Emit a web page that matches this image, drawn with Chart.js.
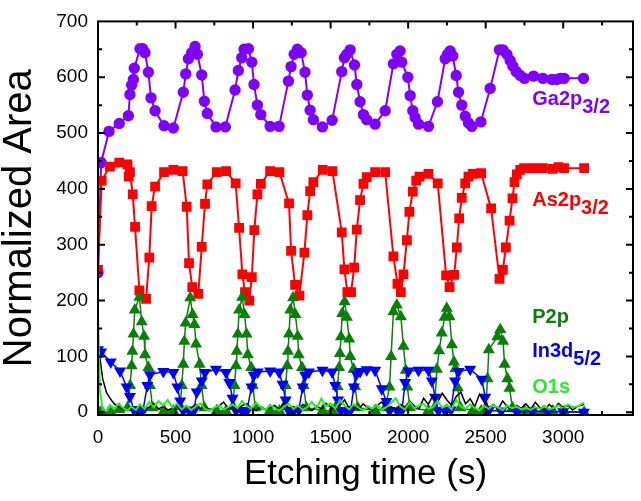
<!DOCTYPE html>
<html>
<head>
<meta charset="utf-8">
<script src="https://cdn.jsdelivr.net/npm/chart.js@4.4.0/dist/chart.umd.min.js"></script>
<style>
  body { margin: 0; background: #fff; }
  canvas { display: block; }
</style>
</head>
<body>
<canvas id="chart" width="641" height="501"></canvas>
<script>
// Axis ticks
var xTicks = [0, 500, 1000, 1500, 2000, 2500, 3000];
var yTicks = [0, 100, 200, 300, 400, 500, 600, 700];

// Ga2p3/2 (purple circles)
var gaTime = [0, 20, 71, 137, 196, 206, 217, 228, 234, 271, 288, 303, 325, 342, 368, 426, 486, 550, 566, 583,
  604, 626, 641, 669, 686, 705, 761, 821, 884, 905, 927, 942, 970, 992, 1006, 1028, 1050, 1110, 1168, 1228,
  1245, 1265, 1286, 1310, 1335, 1350, 1368, 1389, 1447, 1510, 1572, 1589, 1604, 1626, 1654, 1669, 1690, 1712, 1733, 1787,
  1852, 1905, 1927, 1948, 1959, 1998, 2013, 2030, 2045, 2067, 2131, 2189, 2239, 2254, 2271, 2288, 2310, 2325, 2346, 2368,
  2389, 2411, 2469, 2529, 2589, 2611, 2637, 2658, 2675, 2697, 2723, 2750, 2809, 2869, 2927, 2959, 2981, 3006, 3131];
var gaArea = [250, 447, 503, 517, 531, 569, 586, 596, 616, 651, 651, 644, 609, 563, 540, 513, 509, 573, 606, 633,
  644, 655, 641, 604, 557, 535, 511, 511, 577, 612, 635, 650, 651, 627, 587, 550, 533, 512, 512, 593,
  619, 641, 650, 644, 609, 568, 541, 524, 511, 523, 610, 635, 641, 649, 622, 587, 556, 533, 524, 516,
  540, 624, 641, 647, 627, 600, 567, 540, 528, 516, 512, 556, 633, 641, 647, 638, 603, 573, 550, 530,
  518, 512, 520, 580, 649, 649, 641, 630, 620, 610, 603, 598, 602, 598, 596, 596, 598, 598, 598];

// As2p3/2 (red squares)
var asTime = [0, 24, 77, 137, 190, 198, 206, 224, 239, 267, 310, 331, 346, 368, 426, 486, 546, 572, 587, 608,
  647, 669, 690, 705, 766, 826, 888, 910, 931, 948, 976, 992, 1008, 1028, 1050, 1110, 1170, 1232, 1245, 1271,
  1299, 1331, 1350, 1368, 1389, 1449, 1512, 1572, 1589, 1608, 1632, 1652, 1669, 1690, 1712, 1733, 1787, 1852, 1905, 1931,
  1953, 1970, 1992, 2008, 2030, 2052, 2073, 2131, 2191, 2245, 2267, 2297, 2314, 2329, 2346, 2368, 2389, 2417, 2471, 2535,
  2589, 2611, 2630, 2654, 2673, 2686, 2701, 2723, 2748, 2809, 2869, 2933, 2970, 3006, 3135];
var asArea = [255, 415, 440, 447, 444, 422, 430, 390, 332, 218, 203, 277, 369, 404, 430, 434, 432, 368, 267, 224,
  212, 296, 373, 408, 430, 432, 410, 330, 247, 215, 200, 242, 326, 390, 409, 432, 430, 374, 289, 228,
  209, 286, 353, 396, 412, 434, 432, 322, 256, 215, 215, 259, 327, 380, 409, 421, 430, 430, 279, 230,
  215, 247, 308, 359, 395, 415, 422, 427, 410, 245, 224, 246, 295, 347, 384, 410, 422, 427, 428, 365,
  239, 255, 295, 343, 383, 412, 426, 434, 437, 437, 437, 436, 439, 437, 437];

// P2p (green triangles)
var pTime = [0, 24, 77, 137, 190, 207, 217, 222, 229, 237, 267, 282, 297, 303, 325, 335, 352, 426, 486, 530,
  540, 550, 557, 565, 595, 610, 622, 632, 655, 668, 685, 766, 826, 870, 880, 890, 895, 902, 910, 930,
  945, 958, 966, 988, 998, 1015, 1110, 1170, 1200, 1210, 1220, 1225, 1232, 1240, 1258, 1273, 1288, 1294, 1316, 1326,
  1343, 1449, 1512, 1535, 1545, 1555, 1560, 1567, 1575, 1590, 1605, 1620, 1626, 1648, 1658, 1675, 1787, 1852, 1880, 1890,
  1905, 1927, 1953, 1970, 1985, 1995, 2012, 2131, 2170, 2185, 2200, 2217, 2235, 2249, 2267, 2282, 2295, 2305, 2320, 2337,
  2417, 2471, 2500, 2512, 2520, 2575, 2594, 2612, 2622, 2640, 2654, 2672, 2748, 2809, 2869, 2933, 3006, 3135];
var pArea = [3, 2, 3, 5, 8, 48, 83, 109, 140, 183, 206, 162, 136, 103, 80, 48, 8, 3, 2, 10,
  48, 86, 127, 160, 205, 175, 157, 122, 86, 48, 8, 3, 2, 10, 48, 83, 109, 140, 183, 206,
  175, 140, 103, 80, 48, 8, 3, 2, 10, 48, 83, 109, 140, 183, 205, 175, 136, 103, 80, 48,
  8, 3, 2, 10, 46, 80, 105, 135, 177, 198, 170, 131, 100, 77, 46, 8, 3, 8, 45, 100,
  180, 192, 171, 118, 75, 45, 8, 3, 8, 77, 110, 142, 170, 186, 171, 121, 90, 78, 44, 8,
  3, 2, 8, 60, 112, 135, 148, 127, 86, 60, 43, 8, 3, 2, 1, 2, 1, 0];

// In3d5/2 (blue inverted triangles)
var inTime = [0, 20, 82, 142, 185, 206, 230, 260, 290, 318, 335, 421, 486, 512, 530, 550, 590, 620, 637, 669,
  690, 761, 826, 847, 868, 890, 930, 960, 990, 1005, 1030, 1110, 1168, 1190, 1210, 1230, 1260, 1295, 1320, 1336,
  1360, 1447, 1510, 1530, 1548, 1565, 1600, 1630, 1650, 1667, 1690, 1733, 1787, 1830, 1860, 1880, 1930, 1960, 1981, 2002,
  2067, 2131, 2153, 2174, 2195, 2240, 2275, 2303, 2325, 2400, 2475, 2497, 2520, 2600, 2700, 2800, 2900, 3000, 3133];
var inArea = [112, 108, 90, 74, 45, 28, 5, 2, 3, 48, 67, 73, 71, 45, 20, 3, 2, 4, 36, 56,
  71, 77, 71, 53, 25, 3, 2, 3, 45, 66, 72, 74, 72, 50, 22, 3, 2, 4, 45, 66,
  72, 75, 72, 48, 22, 3, 2, 5, 45, 68, 73, 76, 75, 42, 19, 3, 2, 4, 53, 74,
  75, 75, 56, 27, 3, 2, 4, 56, 73, 77, 59, 27, 3, 2, 1, 2, 1, 1, 0];

// O1s (light green) and unlabeled black trace share the same time stamps
var noiseTime = [0, 12, 30, 55, 80, 105, 130, 160, 190, 215, 245, 270, 300, 330, 360,
  390, 420, 450, 480, 510, 540, 570, 600, 630, 660, 690, 720, 750, 780, 810,
  840, 870, 900, 930, 960, 990, 1020, 1050, 1080, 1110, 1140, 1170, 1200, 1230, 1260,
  1290, 1320, 1350, 1380, 1410, 1440, 1470, 1500, 1530, 1560, 1590, 1620, 1650, 1680, 1710,
  1740, 1770, 1800, 1830, 1860, 1890, 1920, 1950, 1980, 2010, 2040, 2070, 2100, 2130, 2160,
  2190, 2220, 2250, 2280, 2310, 2340, 2370, 2400, 2430, 2460, 2490, 2520, 2550, 2580, 2610,
  2640, 2670, 2700, 2730, 2760, 2790, 2820, 2850, 2880, 2910, 2940, 2970, 3000, 3030, 3060,
  3090, 3135];
var oArea = [175, 40, 5, 2, 12, 6, 15, 8, 3, 10, 4, 14, 6, 18, 9,
  20, 12, 22, 8, 15, 5, 12, 4, 10, 16, 6, 3, 8, 12, 5,
  9, 14, 7, 20, 11, 6, 17, 9, 4, 13, 7, 3, 10, 15, 6,
  12, 4, 9, 18, 7, 24, 10, 16, 6, 22, 12, 5, 14, 8, 3,
  11, 6, 13, 4, 9, 16, 25, 10, 5, 18, 7, 12, 15, 6, 9,
  20, 8, 14, 5, 22, 10, 6, 14, 8, 3, 11, 6, 13, 8, 4,
  12, 7, 10, 5, 8, 4, 9, 6, 11, 5, 8, 12, 6, 14, 9,
  10, 17];
var blackArea = [105, 98, 60, 35, 24, 15, 10, 6, 4, 8, 3, 12, 5, 9, 15,
  6, 10, 4, 7, 12, 5, 3, 8, 14, 6, 10, 4, 7, 11, 18,
  6, 9, 4, 12, 15, 7, 3, 10, 5, 8, 12, 4, 18, 7, 10,
  5, 14, 8, 3, 11, 6, 16, 9, 4, 12, 22, 7, 10, 5, 15,
  8, 3, 12, 18, 6, 10, 4, 14, 9, 20, 11, 6, 25, 14, 30,
  18, 34, 22, 12, 28, 36, 15, 24, 10, 32, 18, 8, 14, 6, 20,
  10, 4, 12, 7, 15, 5, 18, 8, 3, 14, 6, 16, 8, 12, 4,
  10, 14];

function pairs(t, v) {
  return t.map(function (x, i) { return { x: x, y: v[i] }; });
}

var GA = '#8000ff', AS = '#ff0000', PP = '#0a800a', IN = '#0000ff', OS = '#22ee22';

// text labels placed in data coordinates
var seriesLabels = [
  { text: 'Ga2p', sub: '3/2', color: GA, x: 2800, y: 551 },
  { text: 'As2p', sub: '3/2', color: AS, x: 2800, y: 369 },
  { text: 'P2p', sub: '', color: PP, x: 2800, y: 159 },
  { text: 'In3d', sub: '5/2', color: IN, x: 2800, y: 99 },
  { text: 'O1s', sub: '', color: OS, x: 2800, y: 34 }
];

var frameTicks = {
  id: 'frameTicks',
  afterDraw: function (chart) {
    var ctx = chart.ctx, a = chart.chartArea, xs = chart.scales.x, ys = chart.scales.y;
    ctx.save();
    ctx.strokeStyle = '#000';
    ctx.lineWidth = 2;
    ctx.strokeRect(a.left, a.top, a.right - a.left, a.bottom - a.top);
    ctx.beginPath();
    var xStep = (xTicks[1] - xTicks[0]) / 2;
    for (var v = xTicks[0]; v < xs.max; v += xStep) {
      var px = xs.getPixelForValue(v);
      if (px <= a.left + 1 || px >= a.right - 1) continue;
      var len = (v % (xStep * 2) === 0) ? 7 : 4;
      ctx.moveTo(px, a.bottom); ctx.lineTo(px, a.bottom - len);
      ctx.moveTo(px, a.top); ctx.lineTo(px, a.top + len);
    }
    var yStep = (yTicks[1] - yTicks[0]) / 2;
    for (var w = yTicks[0]; w <= ys.max; w += yStep) {
      var py = ys.getPixelForValue(w);
      if (py <= a.top + 1 || py >= a.bottom - 1) continue;
      var l2 = (w % (yStep * 2) === 0) ? 7 : 4;
      ctx.moveTo(a.left, py); ctx.lineTo(a.left + l2, py);
      ctx.moveTo(a.right, py); ctx.lineTo(a.right - l2, py);
    }
    ctx.stroke();

    ctx.font = 'bold 20px "Liberation Sans", Arial, sans-serif';
    ctx.textBaseline = 'alphabetic';
    seriesLabels.forEach(function (lb) {
      var lx = xs.getPixelForValue(lb.x), ly = ys.getPixelForValue(lb.y);
      ctx.fillStyle = lb.color;
      ctx.fillText(lb.text, lx, ly);
      if (lb.sub) {
        ctx.fillText(lb.sub, lx + ctx.measureText(lb.text).width, ly + 8);
      }
    });
    ctx.restore();
  }
};

var tickFont = { family: '"Liberation Sans", Arial, sans-serif', size: 19 };
var xTitleFont = { family: '"Liberation Sans", Arial, sans-serif', size: 35 };
var yTitleFont = { family: '"Liberation Sans", Arial, sans-serif', size: 40, lineHeight: 1 };

new Chart(document.getElementById('chart').getContext('2d'), {
  type: 'line',
  data: {
    datasets: [
      { label: 'O1s', data: pairs(noiseTime, oArea), borderColor: OS, borderWidth: 2, pointRadius: 0, order: 0 },
      { label: 'C', data: pairs(noiseTime, blackArea), borderColor: '#000', borderWidth: 1.5, pointRadius: 0, order: 1 },
      { label: 'In3d5/2', data: pairs(inTime, inArea), borderColor: IN, backgroundColor: IN, borderWidth: 1.5,
        pointStyle: 'triangle', rotation: 180, pointRadius: 5.5, order: 2 },
      { label: 'P2p', data: pairs(pTime, pArea), borderColor: PP, backgroundColor: PP, borderWidth: 1.5,
        pointStyle: 'triangle', pointRadius: 5.5, order: 3 },
      { label: 'As2p3/2', data: pairs(asTime, asArea), borderColor: AS, backgroundColor: AS, borderWidth: 2,
        pointStyle: 'rect', pointRadius: 5.5, order: 4 },
      { label: 'Ga2p3/2', data: pairs(gaTime, gaArea), borderColor: GA, backgroundColor: GA, borderWidth: 2,
        pointStyle: 'circle', pointRadius: 4.7, order: 5 }
    ]
  },
  options: {
    responsive: false,
    animation: false,
    layout: { padding: { left: 0, right: 8, top: 15, bottom: 0 } },
    plugins: { legend: { display: false }, tooltip: { enabled: false } },
    scales: {
      x: {
        type: 'linear', min: 0, max: 3450,
        afterFit: function (s) { s.height = 86; },
        afterBuildTicks: function (s) { s.ticks = xTicks.map(function (v) { return { value: v }; }); },
        grid: { display: false, drawTicks: false },
        border: { display: false },
        ticks: { font: tickFont, color: '#000', padding: 11, maxRotation: 0, autoSkip: false,
          callback: function (v) { return String(v); } },
        title: { display: true, text: 'Etching time (s)', font: xTitleFont, color: '#000', padding: { top: 0, bottom: 6 } }
      },
      y: {
        min: -5, max: 700,
        afterFit: function (s) { s.width = 98; },
        afterBuildTicks: function (s) { s.ticks = yTicks.map(function (v) { return { value: v }; }); },
        grid: { display: false, drawTicks: false },
        border: { display: false },
        ticks: { font: tickFont, color: '#000', padding: 10, autoSkip: false,
          callback: function (v) { return String(v); } },
        title: { display: true, text: 'Normalized Area', font: yTitleFont, color: '#000', padding: { top: 0, bottom: 0 } }
      }
    }
  },
  plugins: [frameTicks]
});
</script>
</body>
</html>
